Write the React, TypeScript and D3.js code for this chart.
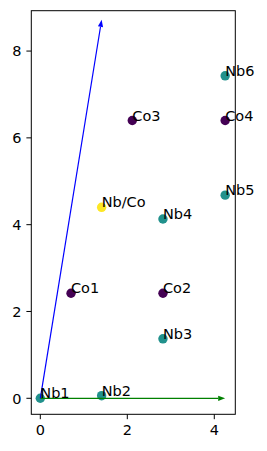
import React from "react";
import * as d3 from "d3";

const labels = ["Nb1", "Nb2", "Nb3", "Co1", "Co2", "Nb/Co", "Nb4", "Nb5", "Co3", "Co4", "Nb6"];
const xs = [0, 1.41, 2.82, 0.706, 2.82, 1.41, 2.82, 4.25, 2.115, 4.25, 4.25];
const ys = [0, 0.06, 1.37, 2.42, 2.42, 4.40, 4.13, 4.68, 6.40, 6.40, 7.43];
const kinds = [1, 1, 1, 0, 0, 2, 1, 1, 0, 0, 1];
const kindColors = ["#440154", "#21918c", "#fde725"];
const xTicks = [0, 2, 4];
const yTicks = [0, 2, 4, 6, 8];
const vectors = [
  { x: 4.25, y: 0, color: "green" },
  { x: 1.41, y: 8.72, color: "blue" },
];

export default function App() {
  const W = 267, H = 451;
  const L = 31.3, R = 235.3, T = 10.7, B = 414.3;
  const x = d3.scaleLinear().domain([-0.207, 4.483]).range([L, R]);
  const y = d3.scaleLinear().domain([-0.369, 8.93]).range([B, T]);
  const font = "DejaVu Sans";
  const fs = 14.5;

  const arrow = (v: { x: number; y: number; color: string }, i: number) => {
    const x0 = x(0), y0 = y(0), x1 = x(v.x), y1 = y(v.y);
    const dx = x1 - x0, dy = y1 - y0;
    const len = Math.hypot(dx, dy);
    const ux = dx / len, uy = dy / len;
    const hl = 7, hw = 2.6;
    const bx = x1 - ux * hl, by = y1 - uy * hl;
    const px = -uy, py = ux;
    const pts = [
      [x1, y1],
      [bx + px * hw, by + py * hw],
      [bx - px * hw, by - py * hw],
    ].map((p) => p.join(",")).join(" ");
    return (
      <g key={i}>
        <line x1={x0} y1={y0} x2={bx} y2={by} stroke={v.color} strokeWidth={1.2} />
        <polygon points={pts} fill={v.color} />
      </g>
    );
  };

  return (
    <svg width={W} height={H} style={{ position: "absolute", left: 0, top: 0 }}>
      <rect width={W} height={H} fill="white" />
      {labels.map((l, i) => (
        <circle key={l} cx={x(xs[i])} cy={y(ys[i])} r={4.7} fill={kindColors[kinds[i]]} />
      ))}
      {vectors.map(arrow)}
      {labels.map((l, i) => (
        <text key={l} x={x(xs[i])} y={y(ys[i])} fontFamily={font} fontSize={fs} fill="black">
          {l}
        </text>
      ))}
      <rect x={L} y={T} width={R - L} height={B - T} fill="none" stroke="black" strokeWidth={1} />
      {xTicks.map((t) => (
        <g key={"x" + t}>
          <line x1={x(t)} x2={x(t)} y1={B} y2={B + 4.9} stroke="black" strokeWidth={1} />
          <text x={x(t)} y={B + 9.5} dy="0.76em" textAnchor="middle" fontFamily={font} fontSize={fs}>
            {t}
          </text>
        </g>
      ))}
      {yTicks.map((t) => (
        <g key={"y" + t}>
          <line x1={L - 4.9} x2={L} y1={y(t)} y2={y(t)} stroke="black" strokeWidth={1} />
          <text x={L - 9.7} y={y(t)} dy="0.36em" textAnchor="end" fontFamily={font} fontSize={fs}>
            {t}
          </text>
        </g>
      ))}
    </svg>
  );
}
